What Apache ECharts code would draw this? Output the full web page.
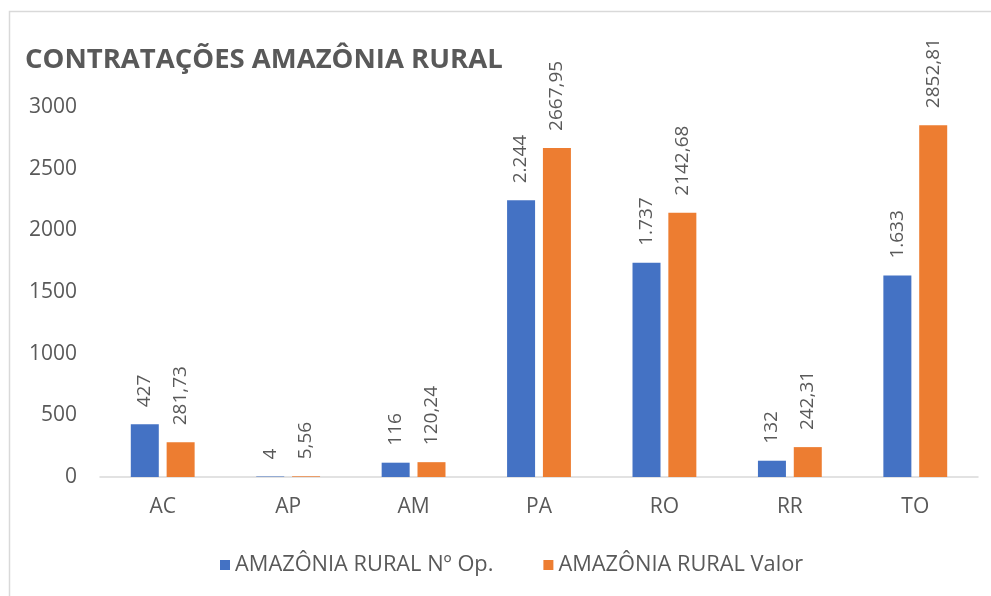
<!DOCTYPE html>
<html>
<head>
<meta charset="utf-8">
<script src="https://cdn.jsdelivr.net/npm/echarts@6/dist/echarts.min.js"></script>
<style>
  html, body { margin: 0; padding: 0; background: #fff; }
  #chart { width: 991px; height: 596px; }
</style>
</head>
<body>
<div id="chart"></div>
<script>
const categories = ['AC', 'AP', 'AM', 'PA', 'RO', 'RR', 'TO'];
const numOps = [427, 4, 116, 2244, 1737, 132, 1633];
const valores = [281.73, 5.56, 120.24, 2667.95, 2142.68, 242.31, 2852.81];
const yTicks = [0, 500, 1000, 1500, 2000, 2500, 3000];

const txt = '#595959';
const font = "'Open Sans', sans-serif";

// 2244 -> "2.244"
function fmtInt(v) {
    return String(v).replace(/\B(?=(\d{3})+(?!\d))/g, '.');
}
// 281.73 -> "281,73"
function fmtDec(v) {
    return v.toFixed(2).replace('.', ',');
}

const labelBase = {
    show: true,
    position: 'top',
    rotate: 90,
    align: 'left',
    verticalAlign: 'middle',
    distance: 17,
    color: txt,
    fontSize: 19,
    fontFamily: font
};

const chart = echarts.init(document.getElementById('chart'), null, { renderer: 'canvas' });
chart.setOption({
    animation: false,
    textStyle: { fontFamily: font },
    title: {
        text: 'CONTRATAÇÕES AMAZÔNIA RURAL',
        left: 20,
        top: 41,
        textStyle: { color: txt, fontSize: 27.5, fontWeight: 'bold', fontFamily: font }
    },
    graphic: [{
        type: 'rect',
        shape: { x: 9.5, y: 11.5, width: 1000, height: 600 },
        style: { fill: 'none', stroke: '#d9d9d9', lineWidth: 1.5 },
        silent: true
    }],
    legend: {
        bottom: 15,
        left: 215,
        itemWidth: 10,
        itemHeight: 10,
        itemGap: 50,
        icon: 'rect',
        textStyle: { color: txt, fontSize: 21.8, fontFamily: font },
        data: ['AMAZÔNIA RURAL Nº Op.', 'AMAZÔNIA RURAL Valor']
    },
    grid: { left: 100, right: 13, top: 107, bottom: 119 },
    xAxis: {
        type: 'category',
        data: categories,
        axisLine: { lineStyle: { color: '#d9d9d9', width: 1.5 } },
        axisTick: { show: false },
        axisLabel: { color: txt, fontSize: 21, margin: 20, fontFamily: font }
    },
    yAxis: {
        type: 'value',
        min: yTicks[0],
        max: yTicks[yTicks.length - 1],
        interval: 500,
        splitLine: { show: false },
        axisLine: { show: false },
        axisTick: { show: false },
        axisLabel: {
            color: txt, fontSize: 21, margin: 23, fontFamily: font,
            formatter: v => String(v)
        }
    },
    series: [{
        name: 'AMAZÔNIA RURAL Nº Op.',
        type: 'bar',
        data: numOps,
        barWidth: 28,
        barGap: '28%',
        itemStyle: { color: '#4472C4' },
        label: Object.assign({}, labelBase, { formatter: p => fmtInt(p.value) })
    }, {
        name: 'AMAZÔNIA RURAL Valor',
        type: 'bar',
        data: valores,
        barWidth: 28,
        itemStyle: { color: '#ED7D31' },
        label: Object.assign({}, labelBase, { formatter: p => fmtDec(p.value) })
    }]
});
</script>
</body>
</html>
